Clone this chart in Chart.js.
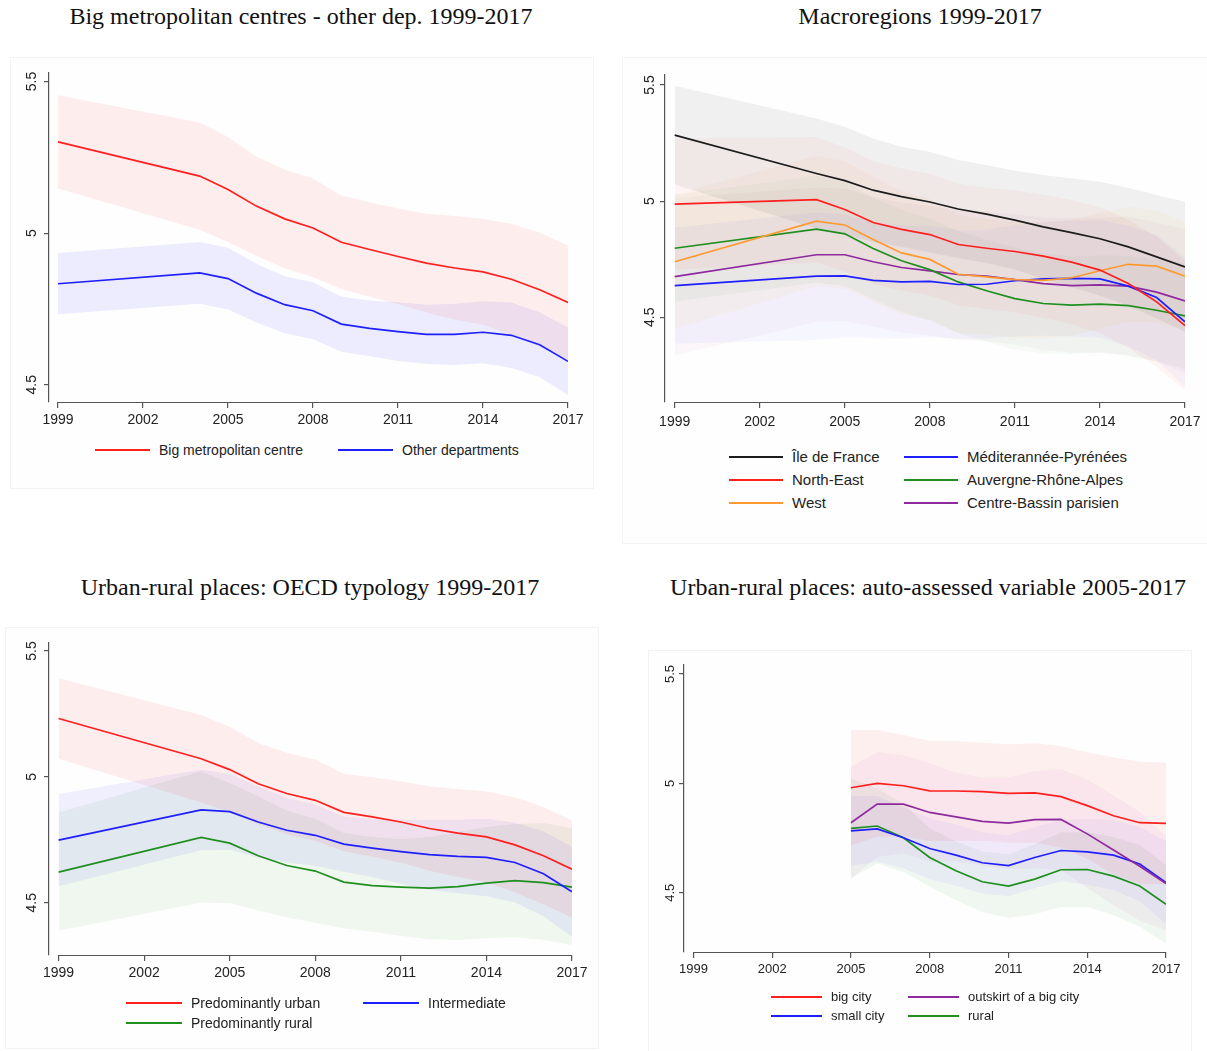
<!DOCTYPE html>
<html><head><meta charset="utf-8">
<script src="https://cdn.jsdelivr.net/npm/chart.js@4.4.0/dist/chart.umd.min.js"></script>
<style>
body{margin:0;width:1207px;height:1051px;background:#fff;position:relative;overflow:hidden;font-family:"Liberation Sans",Arial,sans-serif;}
.title{position:absolute;font-family:"Liberation Serif","Times New Roman",serif;font-size:24px;color:#111;white-space:nowrap;transform:translateX(-50%);line-height:24px;}
canvas{position:absolute;}
.box{position:absolute;border:1px solid #f3f3f3;background:#fefefe;}
.legend{position:absolute;display:grid;color:#222;}
.li{display:flex;align-items:center;white-space:nowrap;}
.sw{display:inline-block;height:2px;margin-right:9px;flex:none;}
</style></head><body>
<div class="box" style="left:10px;top:57px;width:582px;height:430px"></div>
<div class="box" style="left:622px;top:57px;width:585px;height:485px"></div>
<div class="box" style="left:5px;top:627px;width:592px;height:420px"></div>
<div class="box" style="left:648px;top:650px;width:542px;height:400px"></div>
<div class="title" style="left:301px;top:4px">Big metropolitan centres - other dep. 1999-2017</div>
<div class="title" style="left:920px;top:4px">Macroregions 1999-2017</div>
<div class="title" style="left:310px;top:575px">Urban-rural places: OECD typology 1999-2017</div>
<div class="title" style="left:928px;top:575px">Urban-rural places: auto-assessed variable 2005-2017</div>
<script>
// ---- shared axes ----
const years = [1999,2004,2005,2006,2007,2008,2009,2010,2011,2012,2013,2014,2015,2016,2017];
const years4 = [2005,2006,2007,2008,2009,2010,2011,2012,2013,2014,2015,2016,2017];
const xTicks = [1999,2002,2005,2008,2011,2014,2017];
const yTicks = [4.5,5,5.5];

// ---- panel 1: Big metropolitan centres vs other departments ----
const p1Labels = ['Big metropolitan centre','Other departments'];
const metroMean = [5.301,5.188,5.144,5.089,5.047,5.017,4.970,4.946,4.923,4.901,4.885,4.872,4.848,4.813,4.771];
const metroHi   = [5.455,5.365,5.317,5.253,5.210,5.180,5.124,5.102,5.081,5.064,5.056,5.047,5.031,5.001,4.959];
const metroLo   = [5.147,5.011,4.971,4.925,4.884,4.854,4.816,4.790,4.765,4.738,4.714,4.697,4.665,4.625,4.583];
const otherMean = [4.833,4.869,4.850,4.802,4.764,4.744,4.700,4.686,4.675,4.666,4.666,4.673,4.663,4.632,4.577];
const otherHi   = [4.934,4.971,4.952,4.899,4.858,4.838,4.791,4.778,4.772,4.764,4.767,4.775,4.771,4.739,4.689];
const otherLo   = [4.732,4.767,4.748,4.705,4.670,4.650,4.609,4.594,4.578,4.568,4.565,4.571,4.555,4.525,4.465];

// ---- panel 2: Macroregions ----
const p2Labels = ['Île de France','North-East','West','Méditerannée-Pyrénées','Auvergne-Rhône-Alpes','Centre-Bassin parisien'];
const idfMean = [5.284,5.119,5.088,5.047,5.019,4.996,4.966,4.944,4.918,4.889,4.864,4.838,4.803,4.760,4.717];
const idfHi   = [5.497,5.356,5.320,5.270,5.234,5.213,5.177,5.155,5.131,5.112,5.098,5.083,5.057,5.026,4.997];
const idfLo   = [5.071,4.882,4.856,4.824,4.804,4.779,4.755,4.733,4.705,4.666,4.630,4.593,4.549,4.494,4.437];
const neMean = [4.987,5.006,4.964,4.908,4.878,4.856,4.813,4.797,4.783,4.763,4.737,4.703,4.645,4.566,4.464];
const neHi   = [5.270,5.276,5.232,5.173,5.141,5.118,5.075,5.059,5.046,5.028,5.005,4.975,4.921,4.846,4.744];
const neLo   = [4.704,4.736,4.696,4.643,4.615,4.594,4.551,4.535,4.520,4.498,4.469,4.431,4.369,4.286,4.184];
const westMean = [4.739,4.914,4.897,4.835,4.777,4.749,4.685,4.674,4.662,4.659,4.670,4.700,4.728,4.720,4.677];
const westHi   = [5.029,5.194,5.172,5.105,5.042,5.009,4.940,4.924,4.912,4.909,4.920,4.950,4.976,4.960,4.912];
const westLo   = [4.449,4.634,4.622,4.565,4.512,4.489,4.430,4.424,4.412,4.409,4.420,4.450,4.480,4.480,4.442];
const medMean = [4.636,4.677,4.678,4.659,4.652,4.654,4.641,4.642,4.657,4.665,4.667,4.665,4.634,4.585,4.480];
const medHi   = [4.886,4.952,4.943,4.909,4.897,4.894,4.876,4.877,4.897,4.910,4.917,4.920,4.894,4.855,4.760];
const medLo   = [4.386,4.402,4.413,4.409,4.407,4.414,4.406,4.407,4.417,4.420,4.417,4.410,4.374,4.315,4.200];
const araMean = [4.797,4.879,4.859,4.796,4.743,4.705,4.652,4.614,4.580,4.559,4.552,4.556,4.550,4.530,4.506];
const araHi   = [5.027,5.109,5.084,5.016,4.963,4.925,4.872,4.834,4.800,4.774,4.762,4.766,4.765,4.750,4.736];
const araLo   = [4.567,4.649,4.634,4.576,4.523,4.485,4.432,4.394,4.360,4.344,4.342,4.346,4.335,4.310,4.276];
const cbpMean = [4.675,4.769,4.769,4.739,4.714,4.700,4.684,4.677,4.662,4.645,4.636,4.639,4.634,4.608,4.570];
const cbpHi   = [5.015,5.059,5.054,5.019,4.994,4.980,4.964,4.957,4.942,4.930,4.926,4.929,4.934,4.908,4.880];
const cbpLo   = [4.335,4.479,4.484,4.459,4.434,4.420,4.404,4.397,4.382,4.360,4.346,4.349,4.334,4.308,4.260];

// ---- panel 3: OECD typology ----
const p3Labels = ['Predominantly urban','Intermediate','Predominantly rural'];
const urbanMean = [5.232,5.072,5.029,4.973,4.934,4.907,4.859,4.841,4.821,4.795,4.777,4.762,4.730,4.687,4.633];
const urbanHi   = [5.392,5.246,5.199,5.135,5.096,5.069,5.013,4.999,4.983,4.963,4.952,4.942,4.919,4.880,4.827];
const urbanLo   = [5.072,4.898,4.859,4.811,4.772,4.745,4.705,4.683,4.659,4.627,4.602,4.582,4.541,4.494,4.439];
const interMean = [4.749,4.869,4.862,4.821,4.788,4.768,4.733,4.717,4.703,4.691,4.684,4.680,4.660,4.615,4.544];
const interHi   = [4.932,5.029,5.013,4.963,4.916,4.890,4.843,4.833,4.830,4.830,4.830,4.834,4.819,4.784,4.724];
const interLo   = [4.566,4.709,4.711,4.679,4.660,4.646,4.623,4.601,4.576,4.552,4.538,4.526,4.501,4.446,4.364];
const ruralMean = [4.622,4.760,4.737,4.687,4.648,4.626,4.582,4.568,4.562,4.558,4.564,4.578,4.588,4.580,4.562];
const ruralHi   = [4.859,5.023,4.976,4.923,4.867,4.834,4.777,4.761,4.753,4.761,4.781,4.801,4.813,4.817,4.797];
const ruralLo   = [4.389,4.501,4.498,4.469,4.441,4.421,4.398,4.385,4.368,4.355,4.352,4.359,4.363,4.352,4.332];

// ---- panel 4: auto-assessed variable ----
const p4Labels = ['big city','outskirt of a big city','small city','rural'];
const bigMean = [4.980,5.000,4.989,4.966,4.965,4.962,4.954,4.956,4.939,4.898,4.852,4.820,4.817];
const bigHi   = [5.244,5.244,5.221,5.195,5.194,5.186,5.179,5.183,5.171,5.142,5.119,5.099,5.095];
const bigLo   = [4.716,4.756,4.757,4.737,4.736,4.738,4.729,4.729,4.707,4.654,4.585,4.541,4.539];
const outMean = [4.820,4.905,4.905,4.867,4.847,4.826,4.818,4.834,4.835,4.769,4.695,4.621,4.542];
const outHi   = [5.076,5.145,5.130,5.092,5.050,5.027,5.027,5.056,5.066,5.018,4.947,4.870,4.756];
const outLo   = [4.564,4.665,4.680,4.642,4.644,4.625,4.609,4.612,4.604,4.520,4.443,4.372,4.328];
const smallMean = [4.783,4.792,4.751,4.702,4.672,4.637,4.624,4.661,4.693,4.687,4.672,4.631,4.547];
const smallHi   = [4.943,4.942,4.891,4.842,4.812,4.777,4.764,4.801,4.833,4.837,4.832,4.801,4.737];
const smallLo   = [4.623,4.642,4.611,4.562,4.532,4.497,4.484,4.521,4.553,4.537,4.512,4.461,4.357];
const rurMean = [4.794,4.805,4.751,4.661,4.600,4.550,4.530,4.562,4.605,4.606,4.576,4.531,4.447];
const rurHi   = [5.023,4.976,4.907,4.795,4.734,4.688,4.675,4.722,4.775,4.777,4.755,4.718,4.627];
const rurLo   = [4.565,4.634,4.595,4.527,4.466,4.412,4.385,4.402,4.435,4.435,4.397,4.344,4.267];

// ---- colours ----
const RED='#ff1f1f', BLUE='#1f1fff', GREEN='#1f8f1f', ORANGE='#ff9a30', PURPLE='#8e2a9e', BLACK='#1c1c1c';
const AXIS='#555555';

const pts = (xs, ys) => xs.map((x, i) => ({x: x, y: ys[i]}));
const fontOf = s => ({family: '"Liberation Sans", Arial, sans-serif', size: s});

const xAxisLine = {
  id: 'xAxisLine',
  afterDraw(chart) {
    const sx = chart.scales.x, yb = Math.round(chart.chartArea.bottom) + 0.5;
    const c = chart.ctx;
    c.save(); c.strokeStyle = AXIS; c.lineWidth = 1.2;
    c.beginPath();
    c.moveTo(sx.getPixelForValue(xTicks[0]), yb);
    c.lineTo(sx.getPixelForValue(xTicks[xTicks.length - 1]), yb);
    c.stroke(); c.restore();
  }
};

function build(o) {
  const datasets = [];
  o.series.forEach(s => datasets.push({label: s.label, data: pts(o.years, s.mean), borderColor: s.color,
    backgroundColor: s.color, borderWidth: 1.7, pointRadius: 0, fill: false, tension: 0}));
  o.series.forEach(s => {
    datasets.push({label: s.label + ' lower', data: pts(o.years, s.lo), borderColor: 'rgba(0,0,0,0)',
      borderWidth: 0, pointRadius: 0, fill: false, tension: 0});
    datasets.push({label: s.label + ' upper', data: pts(o.years, s.hi), borderColor: 'rgba(0,0,0,0)',
      borderWidth: 0, pointRadius: 0, fill: '-1', backgroundColor: s.band, tension: 0});
  });
  const cv = document.createElement('canvas');
  cv.width = o.w; cv.height = o.h;
  cv.style.left = o.left + 'px'; cv.style.top = o.top + 'px';
  document.body.appendChild(cv);
  new Chart(cv, {
    type: 'line',
    data: {datasets: datasets},
    options: {
      responsive: false, animation: false, events: [],
      layout: {padding: o.pad},
      plugins: {legend: {display: false}, tooltip: {enabled: false}},
      scales: {
        x: {type: 'linear', min: o.xmin, max: 2017,
          border: {display: false},
          grid: {display: true, drawOnChartArea: false, drawTicks: true, tickLength: 6, color: AXIS, lineWidth: 1.2},
          ticks: {font: fontOf(o.fs), color: '#222', padding: o.xpad, maxRotation: 0, autoSkip: false,
            callback: v => String(v)},
          afterBuildTicks: sc => { sc.ticks = xTicks.map(v => ({value: v})); },
          afterFit: sc => { sc.height = 30; }},
        y: {type: 'linear', min: o.ymin, max: o.ymax,
          border: {display: true, color: AXIS, width: 1.2},
          grid: {display: true, drawOnChartArea: false, drawTicks: true, tickLength: 5, color: AXIS, lineWidth: 1.2},
          ticks: {font: fontOf(o.fs), color: '#222', padding: o.ypad, minRotation: 90, maxRotation: 90,
            crossAlign: 'center', callback: v => String(v)},
          afterBuildTicks: sc => { sc.ticks = yTicks.map(v => ({value: v})); },
          afterFit: sc => { sc.width = 40; }}
      }
    },
    plugins: [xAxisLine]
  });
  // HTML legend from the series
  const d = document.createElement('div');
  d.className = 'legend';
  d.style.left = o.lx + 'px'; d.style.top = o.ly + 'px'; d.style.fontSize = o.lfs + 'px';
  d.style.gridTemplateColumns = o.lcols.map(c => c + 'px').join(' ');
  if (o.lflow === 'column') {
    d.style.gridAutoFlow = 'column';
    d.style.gridTemplateRows = 'repeat(' + o.lrows + ',' + o.lrh + 'px)';
  } else {
    d.style.gridAutoRows = o.lrh + 'px';
  }
  o.series.forEach(s => {
    const it = document.createElement('div'); it.className = 'li';
    const sw = document.createElement('span'); sw.className = 'sw';
    sw.style.width = o.lw + 'px'; sw.style.backgroundColor = s.color;
    it.appendChild(sw); it.appendChild(document.createTextNode(s.label));
    d.appendChild(it);
  });
  document.body.appendChild(d);
}

build({left: 0, top: 50, w: 600, h: 390, pad: {left: 9, top: 23, right: 32, bottom: 8},
  xmin: 1998.682, ymin: 4.443, ymax: 5.528, fs: 14, xpad: 4, ypad: 2, years: years,
  series: [
    {label: p1Labels[0], mean: metroMean, hi: metroHi, lo: metroLo, color: RED, band: 'rgba(255,0,0,0.065)'},
    {label: p1Labels[1], mean: otherMean, hi: otherHi, lo: otherLo, color: BLUE, band: 'rgba(0,0,255,0.07)'}
  ],
  lx: 95, ly: 441, lfs: 14, lcols: [243, 220], lrh: 18, lw: 55});

build({left: 620, top: 50, w: 587, h: 390, pad: {left: 5, top: 25, right: 22, bottom: 8},
  xmin: 1998.658, ymin: 4.135, ymax: 5.543, fs: 14, xpad: 6, ypad: 0, years: years,
  series: [
    {label: p2Labels[0], mean: idfMean, hi: idfHi, lo: idfLo, color: BLACK, band: 'rgba(0,0,0,0.055)'},
    {label: p2Labels[1], mean: neMean, hi: neHi, lo: neLo, color: RED, band: 'rgba(255,0,0,0.04)'},
    {label: p2Labels[2], mean: westMean, hi: westHi, lo: westLo, color: ORANGE, band: 'rgba(255,170,0,0.045)'},
    {label: p2Labels[3], mean: medMean, hi: medHi, lo: medLo, color: BLUE, band: 'rgba(0,0,255,0.03)'},
    {label: p2Labels[4], mean: araMean, hi: araHi, lo: araLo, color: GREEN, band: 'rgba(0,128,0,0.035)'},
    {label: p2Labels[5], mean: cbpMean, hi: cbpHi, lo: cbpLo, color: PURPLE, band: 'rgba(128,0,128,0.03)'}
  ],
  lx: 729, ly: 445, lfs: 15, lcols: [175, 230], lrh: 23, lw: 54, lflow: 'column', lrows: 3});

build({left: 0, top: 620, w: 600, h: 390, pad: {left: 9, top: 23, right: 28, bottom: 25},
  xmin: 1998.664, ymin: 4.2925, ymax: 5.532, fs: 14, xpad: 4, ypad: 2, years: years,
  series: [
    {label: p3Labels[0], mean: urbanMean, hi: urbanHi, lo: urbanLo, color: RED, band: 'rgba(255,0,0,0.065)'},
    {label: p3Labels[1], mean: interMean, hi: interHi, lo: interLo, color: BLUE, band: 'rgba(0,0,255,0.06)'},
    {label: p3Labels[2], mean: ruralMean, hi: ruralHi, lo: ruralLo, color: GREEN, band: 'rgba(0,128,0,0.06)'}
  ],
  lx: 126, ly: 993, lfs: 14, lcols: [237, 160], lrh: 20, lw: 56});

build({left: 640, top: 640, w: 567, h: 380, pad: {left: 4, top: 25, right: 41, bottom: 38},
  xmin: 1998.642, ymin: 4.229, ymax: 5.541, fs: 13, xpad: 4, ypad: 0, years: years4,
  series: [
    {label: p4Labels[0], mean: bigMean, hi: bigHi, lo: bigLo, color: RED, band: 'rgba(255,0,0,0.06)'},
    {label: p4Labels[1], mean: outMean, hi: outHi, lo: outLo, color: PURPLE, band: 'rgba(128,0,160,0.045)'},
    {label: p4Labels[2], mean: smallMean, hi: smallHi, lo: smallLo, color: BLUE, band: 'rgba(0,0,255,0.045)'},
    {label: p4Labels[3], mean: rurMean, hi: rurHi, lo: rurLo, color: GREEN, band: 'rgba(0,128,0,0.055)'}
  ],
  lx: 771, ly: 987, lfs: 13, lcols: [137, 170], lrh: 19, lw: 51});
</script>
</body></html>
